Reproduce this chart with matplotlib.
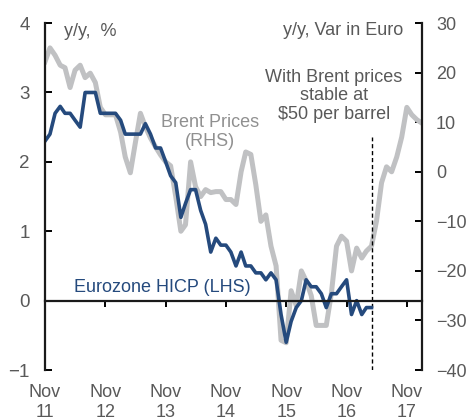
import matplotlib
matplotlib.use("Agg")
import matplotlib.pyplot as plt
import pandas as pd

plt.rcParams["font.family"] = ["Liberation Sans", "DejaVu Sans"]

# Eurozone HICP, y/y % (left axis), monthly from the first tick
hicp = [2.3, 2.4, 2.7, 2.8, 2.7, 2.7, 2.6, 2.5, 3.0, 3.0,
        3.0, 2.7, 2.7, 2.7, 2.7, 2.6, 2.4, 2.4, 2.4, 2.4,
        2.55, 2.4, 2.2, 2.2, 2.0, 1.8, 1.7, 1.2, 1.4, 1.6,
        1.6, 1.3, 1.1, 0.7, 0.9, 0.8, 0.8, 0.7, 0.5, 0.7,
        0.5, 0.5, 0.4, 0.4, 0.3, 0.4, 0.3, -0.2, -0.6, -0.3,
        -0.1, 0.0, 0.3, 0.2, 0.2, 0.1, -0.1, 0.1, 0.1, 0.2,
        0.3, -0.2, 0.0, -0.2, -0.1, -0.1]

# Brent prices, y/y var in euro (right axis)
brent = [22.2, 25.0, 23.5, 21.5, 21.0, 17.0, 20.5, 21.5, 19.0, 19.9,
         18.0, 13.0, 11.5, 11.5, 11.5, 8.0, 3.0, -0.2, 5.8, 11.8,
         9.1, 6.8, 5.0, 3.4, 2.0, 1.2, -5.0, -12.0, -10.7, 2.0,
         -3.0, -5.0, -3.6, -4.2, -4.0, -4.0, -5.6, -5.6, -6.6, 0.0,
         4.0, 3.5, -2.6, -10.0, -8.7, -15.0, -19.0, -34.0, -34.5, -24.0,
         -27.0, -20.0, -22.0, -25.0, -31.0, -31.0, -31.0, -24.5, -15.0, -13.0,
         -14.0, -20.0, -15.4, -17.4, -16.0, -15.0, -10.0, -2.2, 1.0, 0.0,
         3.0, 7.0, 13.0, 11.5, 10.5, 9.8]

start = "2011-11-01"
tick_labels = ["Nov\n11", "Nov\n12", "Nov\n13", "Nov\n14", "Nov\n15", "Nov\n16", "Nov\n17"]
forecast_start = "2017-04-01"

blue = "#254a7d"
grey = "#c0c1c3"
text_grey = "#595959"

dates_b = pd.date_range(start, periods=len(brent), freq="MS")
dates_h = pd.date_range(start, periods=len(hicp), freq="MS")
ticks = pd.date_range(start, periods=len(tick_labels), freq="12MS")

fig = plt.figure(figsize=(4.66, 4.2), dpi=100)
ax = fig.add_axes([0.0966, 0.119, 0.8090, 0.826])
ax2 = ax.twinx()

ax2.plot(dates_b, brent, color=grey, lw=3.6, solid_joinstyle="round")
ax2.vlines(pd.Timestamp(forecast_start), -40, 7, colors="k",
           linestyles=(0, (3, 2)), lw=1.0)
ax.plot(dates_h, hicp, color=blue, lw=2.6, solid_joinstyle="round")

ax.set_zorder(ax2.get_zorder() + 1)
ax.patch.set_visible(False)

ax.set_ylim(-1, 4)
ax2.set_ylim(-40, 30)
ax.set_xlim(pd.Timestamp(start), dates_b[-1])
ax.set_yticks(range(-1, 5))
ax2.set_yticks(range(-40, 31, 10))

ax.set_xticks(ticks)
ax.set_xticklabels(tick_labels, linespacing=1.1)

for s in ["top", "right"]:
    ax.spines[s].set_visible(False)
for s in ["top", "left", "bottom"]:
    ax2.spines[s].set_visible(False)
ax.spines["bottom"].set_position(("data", 0))
for sp in [ax.spines["left"], ax.spines["bottom"], ax2.spines["right"]]:
    sp.set_linewidth(1.6)
    sp.set_color("#1a1a1a")

ax.tick_params(axis="y", direction="in", length=5, width=1.4, pad=11,
               labelsize=13.5, labelcolor=text_grey)
ax.tick_params(axis="x", direction="out", length=4, width=1.4, pad=56,
               labelsize=13, labelcolor=text_grey)
ax2.tick_params(axis="y", direction="in", length=5, width=1.4, pad=10,
                labelsize=13, labelcolor=text_grey)

ax.text(0.05, 0.975, "y/y,  %", transform=ax.transAxes, fontsize=13,
        color=text_grey, va="center", ha="left")
ax.text(0.95, 0.978, "y/y, Var in Euro", transform=ax.transAxes, fontsize=13,
        color=text_grey, va="center", ha="right")
ax2.text(pd.Timestamp("2016-08-15"), 15.3, "With Brent prices\nstable at\n$50 per barrel",
         fontsize=13, color=text_grey, ha="center", va="center", linespacing=1.15)
ax2.text(pd.Timestamp("2014-07-25"), 8.0, "Brent Prices\n(RHS)", fontsize=13,
         color="#909090", ha="center", va="center", linespacing=1.15)
ax.text(pd.Timestamp("2013-10-10"), 0.19, "Eurozone HICP (LHS)", fontsize=13,
        color=blue, ha="center", va="center")

fig.savefig("out.png", dpi=100)
